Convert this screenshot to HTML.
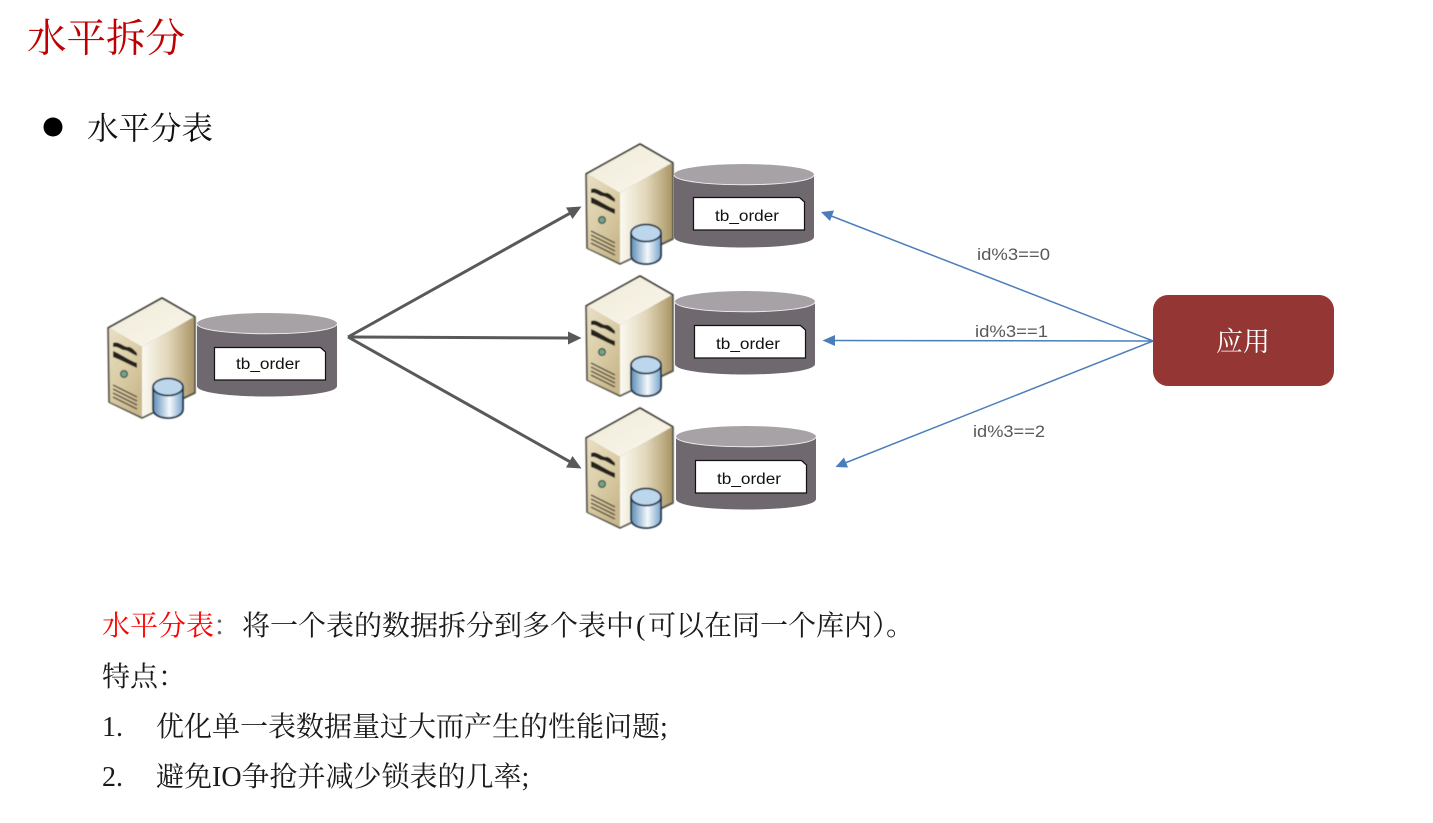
<!DOCTYPE html>
<html lang="zh">
<head>
<meta charset="utf-8">
<title>水平拆分</title>
<style>
html,body{margin:0;padding:0;background:#fff;width:1433px;height:823px;overflow:hidden}
svg{display:block}
.s{font-family:"Liberation Serif","Noto Serif CJK SC",serif}
.b{font-family:"Liberation Sans","Noto Sans CJK SC",sans-serif}
.t{font-size:28px;fill:#1a1a1a}
.lbl{font-size:15.5px;fill:#111}
.id{font-size:17px;fill:#595959}
</style>
</head>
<body>
<svg width="1433" height="823" viewBox="0 0 1433 823" xmlns="http://www.w3.org/2000/svg">
<defs>
<filter id="soft" x="-5%" y="-5%" width="110%" height="110%"><feGaussianBlur stdDeviation="0.45"/></filter>
<linearGradient id="front" x1="0" y1="0" x2="0.6" y2="1"><stop offset="0" stop-color="#e9dfc4"/><stop offset=".5" stop-color="#dccfa9"/><stop offset="1" stop-color="#c9b88c"/></linearGradient>
<linearGradient id="side" x1="0" y1="0" x2="1" y2="0"><stop offset="0" stop-color="#fbf9f1"/><stop offset=".5" stop-color="#e2d7bb"/><stop offset="1" stop-color="#ab9767"/></linearGradient>
<linearGradient id="top" x1="0" y1="0" x2="1" y2="1"><stop offset="0" stop-color="#f1ecd9"/><stop offset="1" stop-color="#f8f5ea"/></linearGradient>
<linearGradient id="db" x1="0" y1="0" x2="1" y2="0"><stop offset="0" stop-color="#5b8cb6"/><stop offset=".55" stop-color="#f4f8fc"/><stop offset="1" stop-color="#7aa5ca"/></linearGradient>
<g id="server" filter="url(#soft)">
<path d="M54 1 L87 20 L87 96 L34 121 L1 105 L0 31 Z" fill="#6e6a60" stroke="#55524a" stroke-width="1.6" stroke-linejoin="round"/>
<path d="M54 2 L86 20 L34 50 L1 31 Z" fill="url(#top)"/>
<path d="M34 50 L86 20 L86 95 L34 120 Z" fill="url(#side)"/>
<path d="M1 31 L34 50 L34 120 L2 105 Z" fill="url(#front)"/>
<path d="M54 1 L87 20 M54 1 L0 31" stroke="#3a3833" stroke-width="1.6" fill="none"/>
<path d="M5 46 C11 44 14 49 19 50 C23 49 26 53 29 56 L29 59 C22 56 20 53 15 53 C11 51 8 49 5 50 Z" fill="#26241f"/>
<path d="M5 54 C11 56 22 64 29 66 L29 71 C22 68 11 62 5 60 Z" fill="#26241f"/>
<circle cx="16" cy="77" r="3.4" fill="#6fa58c" stroke="#3c4a42" stroke-width="1.2"/>
<path d="M5 88 L29 100 M5 92 L29 104 M5 96 L29 108 M5 100 L29 112" stroke="#4f4a3c" stroke-width="1.3"/>
<path d="M45 90 V112 C45 124 75 124 75 112 V90 Z" fill="url(#db)" stroke="#1d3246" stroke-width="1.8"/>
<ellipse cx="60" cy="90" rx="15" ry="8.5" fill="#bcd6ec" stroke="#1d3246" stroke-width="1.8"/>
</g>
<g id="cyl">
<path d="M0 10.5 V73 C0 87 140 87 140 73 V10.5 Z" fill="#6f686f"/>
<ellipse cx="70" cy="10.5" rx="70" ry="10.5" fill="#a7a2a6"/>
<path d="M0 11 C3 24 137 24 140 11" fill="none" stroke="#f0eef0" stroke-width="1"/>
</g>
<path id="note" d="M0 0 H106 L111 4.5 V32.5 H0 Z" fill="#fff" stroke="#111" stroke-width="1.2"/>
</defs>

<text class="s" x="27" y="52" font-size="39.5" fill="#c00000">水平拆分</text>
<circle cx="53" cy="127" r="9.5" fill="#000"/>
<text class="s" x="87" y="139" font-size="31.5" fill="#111">水平分表</text>

<use href="#server" x="108" y="297"/>
<use href="#cyl" x="197" y="313"/>
<use href="#note" x="214.5" y="347.5"/>
<text class="b lbl" x="236" y="369" textLength="64" lengthAdjust="spacingAndGlyphs">tb_order</text>

<use href="#server" x="586" y="143"/>
<use href="#cyl" x="674" y="164"/>
<use href="#note" x="693.5" y="197.5"/>
<text class="b lbl" x="715" y="221" textLength="64" lengthAdjust="spacingAndGlyphs">tb_order</text>

<use href="#server" x="586" y="275"/>
<use href="#cyl" x="675" y="291"/>
<use href="#note" x="694.5" y="325.5"/>
<text class="b lbl" x="716" y="349" textLength="64" lengthAdjust="spacingAndGlyphs">tb_order</text>

<use href="#server" x="586" y="407"/>
<use href="#cyl" x="676" y="426"/>
<use href="#note" x="695.5" y="460.5"/>
<text class="b lbl" x="717" y="484" textLength="64" lengthAdjust="spacingAndGlyphs">tb_order</text>

<g stroke="#595959" stroke-width="3" fill="none">
<line x1="348" y1="337" x2="569.6" y2="213.4"/>
<line x1="348" y1="337" x2="568" y2="338"/>
<line x1="348" y1="337" x2="569.6" y2="461.6"/>
</g>
<g fill="#595959">
<path d="M581.5 206.5 L572.5 219 L566 207.5 Z"/>
<path d="M581.5 338 L568 344.5 L568 331.5 Z"/>
<path d="M581.5 468.5 L566 467.5 L572.5 456 Z"/>
</g>
<g stroke="#4a7ebb" stroke-width="1.5" fill="none">
<line x1="1153" y1="341" x2="830" y2="215.5"/>
<line x1="1153" y1="341" x2="832" y2="340.5"/>
<line x1="1153" y1="341" x2="845" y2="463"/>
</g>
<g fill="#4a7ebb">
<path d="M821 212 L834 210.5 L830 221 Z"/>
<path d="M822.5 340.5 L835 335 L835 346 Z"/>
<path d="M835.5 467 L844 457.5 L848 467.5 Z"/>
</g>

<text class="b id" x="977" y="260" textLength="73" lengthAdjust="spacingAndGlyphs">id%3==0</text>
<text class="b id" x="975" y="337" textLength="73" lengthAdjust="spacingAndGlyphs">id%3==1</text>
<text class="b id" x="973" y="437" textLength="72" lengthAdjust="spacingAndGlyphs">id%3==2</text>

<rect x="1153" y="295" width="181" height="91" rx="15" ry="15" fill="#943634"/>
<text class="s" x="1243" y="351" font-size="27" fill="#fff" text-anchor="middle">应用</text>

<text class="s t" x="102" y="635" style="fill:#ff0000">水平分表</text>
<text class="s t" x="213" y="635" style="fill:#666">：</text>
<text class="s t" x="242" y="635">将一个表的数据拆分到多个表中</text>
<text class="s t" x="636" y="635">(</text>
<text class="s t" x="648" y="635">可以在同一个库内）。</text>

<text class="s t" x="102" y="686">特点：</text>

<text class="s t" x="102" y="736">1.</text>
<text class="s t" x="156" y="736">优化单一表数据量过大而产生的性能问题;</text>

<text class="s t" x="102" y="786">2.</text>
<text class="s t" x="156" y="786">避免IO争抢并减少锁表的几率;</text>
</svg>
</body>
</html>
